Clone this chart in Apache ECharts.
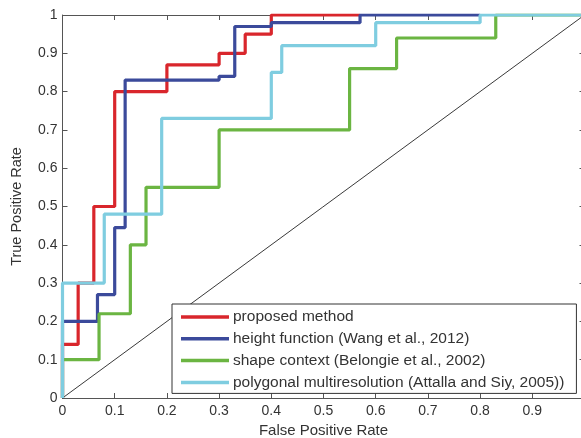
<!DOCTYPE html>
<html>
<head>
<meta charset="utf-8">
<script src="https://cdn.jsdelivr.net/npm/echarts@6/dist/echarts.min.js"></script>
<style>html,body{margin:0;padding:0;background:#fff;}#c{width:581px;height:438px;}</style>
</head>
<body>
<div id="c"></div>
<script>
var seriesNames = ['proposed method', 'height function (Wang et al., 2012)', 'shape context (Belongie et al., 2002)', 'polygonal multiresolution (Attalla and Siy, 2005))'];
var colors = ['#d9262c', '#3b4a9b', '#6bb542', '#7fcde0'];

var proposedFpr = [0, 0, 0.03, 0.06, 0.10, 0.20, 0.30, 0.35, 0.40, 0.57];
var proposedTpr = [0, 0.14, 0.30, 0.50, 0.80, 0.87, 0.90, 0.95, 1.00, 1.00];

var heightFpr = [0, 0, 0.067, 0.10, 0.12, 0.30, 0.33, 0.40, 0.57, 0.80];
var heightTpr = [0, 0.20, 0.27, 0.445, 0.83, 0.84, 0.97, 0.98, 1.00, 1.00];

var shapeFpr = [0, 0, 0.07, 0.13, 0.16, 0.30, 0.55, 0.64, 0.83, 1.00];
var shapeTpr = [0, 0.10, 0.22, 0.40, 0.55, 0.70, 0.86, 0.94, 1.00, 1.00];

var polyFpr = [0, 0, 0.08, 0.19, 0.40, 0.42, 0.60, 0.80, 1.00];
var polyTpr = [0, 0.30, 0.48, 0.73, 0.85, 0.92, 0.98, 1.00, 1.00];

var chanceFpr = [0, 1];
var chanceTpr = [0, 1];

function zip(a, b) { return a.map(function (v, i) { return [v, b[i]]; }); }

var font = 'Liberation Sans, Arial, sans-serif';
var axisColor = '#555';
var textColor = '#333';

var chart = echarts.init(document.getElementById('c'), null, {renderer: 'canvas'});

var stepSeries = [
  [proposedFpr, proposedTpr],
  [heightFpr, heightTpr],
  [shapeFpr, shapeTpr],
  [polyFpr, polyTpr]
].map(function (d, i) {
  return {
    name: seriesNames[i],
    type: 'line',
    step: 'end',
    data: zip(d[0], d[1]),
    showSymbol: false,
    symbol: 'none',
    lineStyle: {color: colors[i], width: 3.2},
    itemStyle: {color: colors[i]},
    z: 3 + i,
    animation: false
  };
});

var option = {
  animation: false,
  backgroundColor: '#fff',
  textStyle: {fontFamily: font},
  grid: {left: 62.5, top: 15, width: 522, height: 383, containLabel: false, outerBoundsMode: 'none'},
  legend: {
    orient: 'vertical',
    left: 172,
    top: 304,
    padding: [5, 12, 3, 9],
    itemGap: 5.8,
    itemWidth: 48,
    itemHeight: 3.5,
    icon: 'rect',
    backgroundColor: '#fff',
    borderColor: '#333',
    borderWidth: 1,
    borderRadius: 0,
    textStyle: {fontFamily: font, fontSize: 15.5, color: textColor, padding: [0, 0, 0, -1]},
    data: seriesNames
  },
  xAxis: [{
    type: 'value', min: 0, max: 1, interval: 0.1, position: 'bottom',
    name: 'False Positive Rate', nameLocation: 'middle', nameGap: 22.5,
    nameTextStyle: {fontFamily: font, fontSize: 15, color: textColor},
    axisLine: {show: true, lineStyle: {color: axisColor, width: 1}},
    axisTick: {show: true, inside: true, length: 5, lineStyle: {color: axisColor}},
    axisLabel: {fontFamily: font, fontSize: 14, color: textColor, margin: 6},
    splitLine: {show: false}
  }, {
    type: 'value', min: 0, max: 1, interval: 0.1, position: 'top',
    axisLine: {show: true, onZero: false, lineStyle: {color: axisColor, width: 1}},
    axisTick: {show: true, inside: true, length: 5, lineStyle: {color: axisColor}},
    axisLabel: {show: false},
    splitLine: {show: false}
  }],
  yAxis: [{
    type: 'value', min: 0, max: 1, interval: 0.1, position: 'left',
    name: 'True Positive Rate', nameLocation: 'middle', nameGap: 38.5,
    nameTextStyle: {fontFamily: font, fontSize: 14.5, color: textColor},
    axisLine: {show: true, lineStyle: {color: axisColor, width: 1}},
    axisTick: {show: true, inside: true, length: 5, lineStyle: {color: axisColor}},
    axisLabel: {fontFamily: font, fontSize: 14, color: textColor, margin: 5},
    splitLine: {show: false}
  }, {
    type: 'value', min: 0, max: 1, interval: 0.1, position: 'right',
    axisLine: {show: true, onZero: false, lineStyle: {color: axisColor, width: 1}},
    axisTick: {show: true, inside: true, length: 5, lineStyle: {color: axisColor}},
    axisLabel: {show: false},
    splitLine: {show: false}
  }],
  series: [{
    name: 'chance',
    type: 'line',
    data: zip(chanceFpr, chanceTpr),
    showSymbol: false,
    symbol: 'none',
    lineStyle: {color: '#222', width: 0.9},
    z: 2,
    silent: true
  }].concat(stepSeries)
};
chart.setOption(option);
</script>
</body>
</html>
